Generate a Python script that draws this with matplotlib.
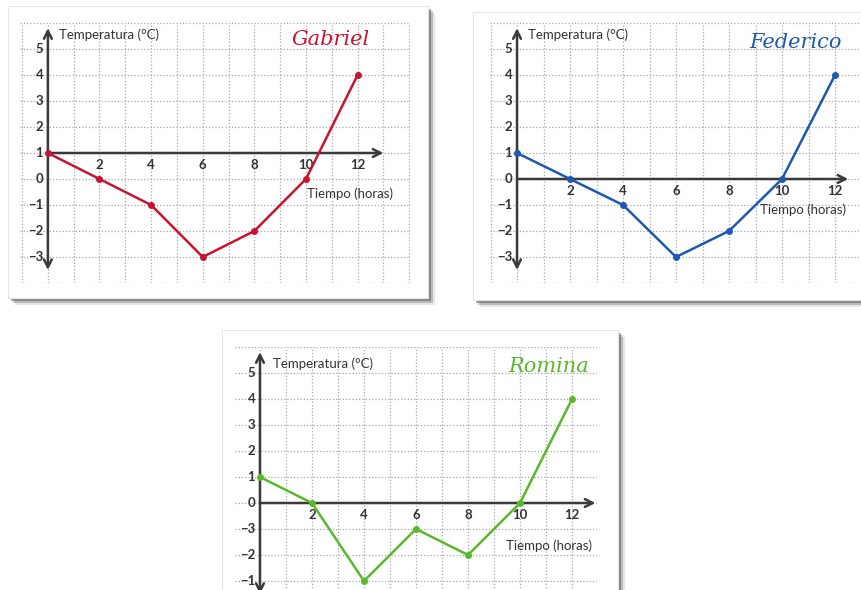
import matplotlib.pyplot as plt
from matplotlib.patches import Rectangle

W, H = 861, 590

hours = [0, 2, 4, 6, 8, 10, 12]
hour_labels = ['2', '4', '6', '8', '10', '12']

gabriel_temp = [1, 0, -1, -3, -2, 0, 4]
federico_temp = [1, 0, -1, -3, -2, 0, 4]
romina_temp = [1, 0, -1, -3, -2, 0, 4]

# labels written on the y axis, top row (5) to bottom row (-3)
gabriel_ylabels = ['5', '4', '3', '2', '1', '0', '−1', '−2', '−3']
federico_ylabels = ['5', '4', '3', '2', '1', '0', '−1', '−2', '−3']
romina_ylabels = ['5', '4', '3', '2', '1', '0', '−3', '−2', '−1']
rows = [5, 4, 3, 2, 1, 0, -1, -2, -3]

names = ['Gabriel', 'Federico', 'Romina']
colors = ['#c8142e', '#1f58b0', '#5ab82c']

plt.rcParams['font.family'] = ['Lato', 'DejaVu Sans']

fig = plt.figure(figsize=(W / 100, H / 100), dpi=100)
fig.patch.set_facecolor('white')


def px_box(x0, y0, x1, y1):
    return [x0 / W, 1 - y1 / H, (x1 - x0) / W, (y1 - y0) / H]


def card(x0, y0, x1, y1):
    # soft shadow then white card
    for off, a in [(7, 0.15), (5, 0.3), (3, 0.5)]:
        fig.patches.append(Rectangle(((x0 + off) / W, 1 - (y1 + off) / H),
                                     (x1 - x0) / W, (y1 - y0) / H,
                                     transform=fig.transFigure, color='#555555',
                                     alpha=a, lw=0, zorder=-3))
    fig.patches.append(Rectangle((x0 / W, 1 - y1 / H), (x1 - x0) / W, (y1 - y0) / H,
                                 transform=fig.transFigure, facecolor='white',
                                 edgecolor='#e6e6e6', lw=0.8, zorder=-2))


def chart(box, xlim, ylim, temps, ylabels, axis_row, xend, name, color,
          tiempo_pos, temp_pos, name_pos, name_style):
    ax = fig.add_axes(px_box(*box))
    ax.set_zorder(2)
    ax.patch.set_alpha(0)
    for s in ax.spines.values():
        s.set_visible(False)
    ax.set_xticks(range(-1, 15))
    ax.set_yticks(range(-4, 7))
    ax.set_xlim(*xlim)
    ax.set_ylim(*ylim)
    ax.tick_params(length=0, labelbottom=False, labelleft=False)
    ax.grid(True, color='#a8a8a8', lw=0.9, ls=(0, (1, 1.6)))
    ax.set_axisbelow(True)

    # axes arrows
    ax.annotate('', xy=(0, 5.8), xytext=(0, -3.5),
                arrowprops=dict(arrowstyle='<->', lw=1.8, color='#3a3a3a',
                                mutation_scale=14, shrinkA=0, shrinkB=0))
    ax.annotate('', xy=(xend, axis_row), xytext=(0, axis_row),
                arrowprops=dict(arrowstyle='->', lw=1.8, color='#3a3a3a',
                                mutation_scale=14, shrinkA=0, shrinkB=0))

    for r, lab in zip(rows, ylabels):
        ax.text(-0.18, r, lab, ha='right', va='center', fontsize=9.5,
                color='#333333', fontweight='bold')
    for hx, lab in zip(hours[1:], hour_labels):
        ax.text(hx, axis_row - 0.45, lab, ha='center', va='center',
                fontsize=9.5, color='#333333', fontweight='bold')

    # place each value on the row that carries its label
    lookup = {lab.replace('−', '-'): r for r, lab in zip(rows, ylabels)}
    ys = [lookup[str(t)] for t in temps]
    ax.plot(hours, ys, color=color, lw=1.8, marker='o', ms=4,
            solid_joinstyle='round', zorder=5)

    ax.text(temp_pos[0], temp_pos[1], 'Temperatura (°C)', ha='left',
            va='center', fontsize=9.5, color='#333333')
    ax.text(tiempo_pos[0], tiempo_pos[1], 'Tiempo (horas)', ha='center',
            va='center', fontsize=9.5, color='#333333')
    ax.text(name_pos[0], name_pos[1], name, ha='center', va='center',
            fontsize=15, color=color, **name_style)
    return ax


card(8, 6, 428, 298)
card(473, 12, 866, 300)
card(222, 330, 618, 600)

# card 1: x axis drawn at row 1
chart((20, 23, 410, 283), (-1.08, 14.03), (-4, 6), gabriel_temp,
      gabriel_ylabels, 1, 13.0, names[0], colors[0],
      (11.7, -0.55), (0.45, 5.55), (10.95, 5.35),
      dict(family='DejaVu Serif', style='italic'))
chart((490, 23, 861, 283), (-1.02, 12.98), (-4, 6), federico_temp,
      federico_ylabels, 0, 12.5, names[1], colors[1],
      (10.8, -1.2), (0.42, 5.55), (10.5, 5.25),
      dict(family='DejaVu Serif', style='italic'))
chart((235, 347, 597, 607), (-0.96, 12.96), (-4, 6), romina_temp,
      romina_ylabels, 0, 12.9, names[2], colors[2],
      (11.1, -1.65), (0.5, 5.35), (11.1, 5.25),
      dict(family='DejaVu Serif', style='italic'))

fig.savefig('out.png', dpi=100)
